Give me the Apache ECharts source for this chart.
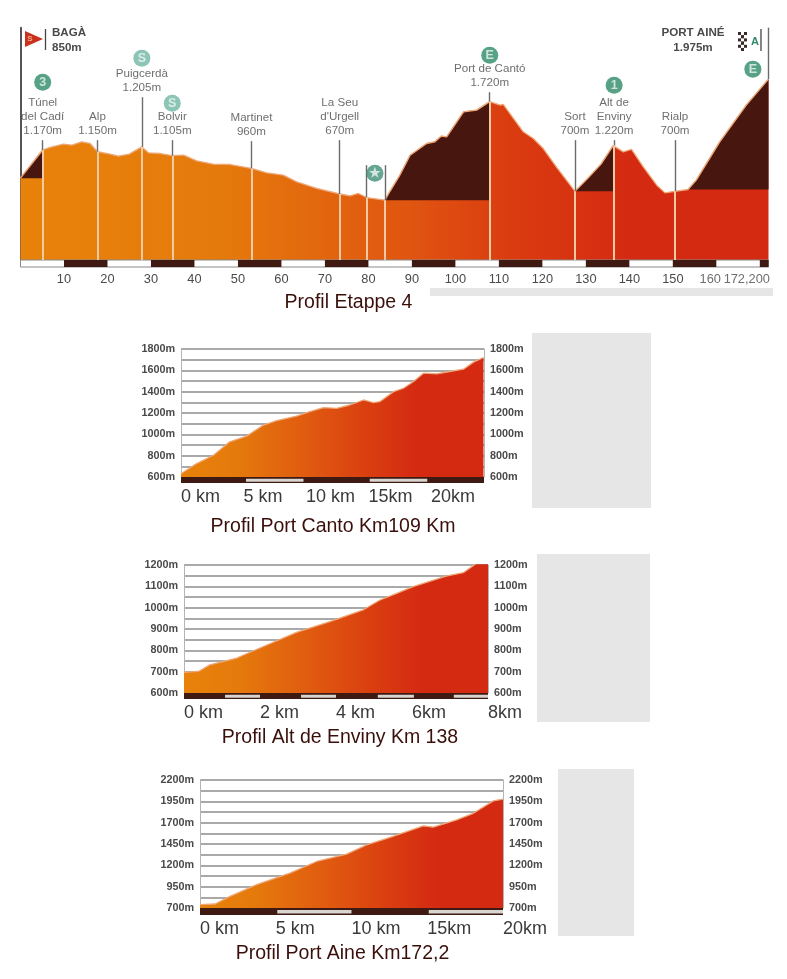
<!DOCTYPE html>
<html>
<head>
<meta charset="utf-8">
<title>Etappe 4 Profile</title>
<style>
html,body{margin:0;padding:0;background:#fff}
#chart{width:787px;height:979px}
</style>
<script src="https://cdn.jsdelivr.net/npm/echarts@6/dist/echarts.min.js"></script>
</head>
<body>
<div id="chart"></div>
<script>
// Stage profile: kilometre marks and elevation in metres
const stageKm = [0,5.1,6.8,9.85,11.8,14.05,16,17.7,20.6,22.5,25,27.9,29.4,32.1,34.9,37.5,40.5,44.3,48.2,53.1,56.6,60.4,63.5,68.1,73.4,75.8,77.7,79.6,83.8,84.9,87.2,89.6,93.4,95.3,96.8,98,101.9,104.9,107.9,110.3,111,115.6,117.9,120.2,123.2,127.5,130.5,133.5,136.3,138.6,140.5,143.2,146.3,148.2,150.5,153.5,155.4,160.8,166.9,172];
const stageElev = [850,1170,1199,1237,1225,1263,1244,1150,1123,1100,1123,1205,1138,1130,1105,1111,1047,1009,1005,960,911,884,808,733,670,649,676,630,600,695,880,1111,1244,1263,1328,1320,1604,1623,1720,1680,1688,1377,1301,1187,979,700,850,1010,1220,1149,1176,979,770,683,700,721,827,1263,1680,1975];

// Climbs shaded dark: start km, end km, floor elevation
const climbStart = [0,83.8,127.5,153.5];
const climbEnd = [5.1,107.9,136.3,172];
const climbFloor = [850,600,700,721];

// Named points along the route
const stopNames = ['Túnel\ndel Cadí\n1.170m','Alp\n1.150m','Puigcerdà\n1.205m','Bolvir\n1.105m','Martinet\n960m','La Seu\nd\'Urgell\n670m','','','Port de Cantó\n1.720m','Sort\n700m','Alt de\nEnviny\n1.220m','Rialp\n700m'];
const stopKm = [5.1,17.7,27.9,34.9,53.1,73.4,79.6,83.8,107.9,127.5,136.5,150.5];
const stopElev = [1170,1150,1205,1105,960,670,630,600,1720,700,1220,700];
const stopTop = [1282,1282,1770,1282,1270,1282,998,998,1827,1282,1282,1282];

// Climb category and sprint badges
const badgeText = ['3','S','S','★','E','1','E'];
const badgeKm = [5.1,27.9,34.9,81.5,107.9,136.5,168.4];
const badgeElev = [1941,2214,1702,907,2248,1907,2089];
const badgeColor = ['#2d8a68','#6fb5a4','#6fb5a4','#3f8f76','#2d8a68','#2d8a68','#2d8a68'];

// Distance strip under the stage profile
const stageStrip = [[10,20],[30,40],[50,60],[70,80],[90,100],[110,120],[130,140],[150,160],[170,172]];
const stageTicks = [10,20,30,40,50,60,70,80,90,100,110,120,130,140,150];
// The last two labels sit left of their marks to stay clear of each other
const stageEndText = ['160','172,200'];
const stageEndKm = [158.6,167];

// Port de Cantó climb
const cantoKm = [0,1.25,2.6,3.9,5.25,6.6,7.65,9.25,10.3,11.4,12.45,13.5,14.6,15.4,15.9,17,17.8,18.6,19.4,20.45,21.5,22.6,23.4,24.2];
const cantoElev = [631,726,804,930,983,1087,1128,1171,1212,1250,1244,1275,1322,1297,1306,1400,1432,1495,1573,1567,1589,1611,1677,1720];
const cantoGrid = [600,700,800,900,1000,1100,1200,1300,1400,1500,1600,1700,1800];
const cantoLabels = [600,800,1000,1200,1400,1600,1800];
const cantoStrip = [[5.2,9.8],[15.1,19.7]];
const cantoTicks = [0,5,10,15,20];
const cantoTickText = ['0 km','5 km','10 km','15km','20km'];

// Alt de Enviny climb
const envinyKm = [0,.38,.68,1.39,2.09,2.96,3.84,4.72,5.16,5.6,6.03,6.9,7.35,7.7,8];
const envinyElev = [697,701,732,764,818,884,935,990,1036,1067,1099,1148,1164,1208,1220];
const envinyGrid = [600,650,700,750,800,850,900,950,1000,1050,1100,1150,1200];
const envinyLabels = [600,700,800,900,1000,1100,1200];
const envinyStrip = [[1.08,2],[3.08,4],[5.1,6.05],[7.1,8]];
const envinyTicks = [0,2,4,6,8];
const envinyTickText = ['0 km','2 km','4 km','6km','8km'];

// Port Ainé climb
const aineKm = [0,1,1.98,3.74,5.94,7.7,9.68,11,12.5,14.74,15.4,16.94,18.04,19.36,20];
const aineElev = [739,747,836,973,1109,1245,1331,1440,1526,1662,1647,1732,1810,1955,1975];
const aineGrid = [700,825,950,1075,1200,1325,1450,1575,1700,1825,1950,2075,2200];
const aineLabels = [700,950,1200,1450,1700,1950,2200];
const aineStrip = [[5.1,10],[15.1,20]];
const aineTicks = [0,5,10,15,20];
const aineTickText = ['0 km','5 km','10 km','15km','20km'];

const FONT = '"Liberation Sans", Arial, sans-serif';
const DARK = '#47160f';
const INK = '#3b3b3b';
const EDGE = '#eea777';
const zipPoints = (xs, ys) => xs.map((x, i) => [x, ys[i]]);

function fillGradient(stops) {
  return new echarts.graphic.LinearGradient(0, 0, 1, 0, stops.map(s => ({offset: s[0], color: s[1]})));
}

const grid = [], xAxis = [], yAxis = [], series = [];

// Rectangles on a strip axis, one per [from, to] entry
function stripSeries(xi, yi, ranges, color, lo, hi, border) {
  series.push({
    type: 'custom', xAxisIndex: xi, yAxisIndex: yi, silent: true, clip: false, z: 4,
    encode: {x: [0, 1]}, data: ranges,
    renderItem(p, api) {
      const a = api.coord([api.value(0), hi]);
      const b = api.coord([api.value(1), lo]);
      return {type: 'rect', shape: {x: a[0], y: a[1], width: b[0] - a[0], height: b[1] - a[1]},
        style: {fill: color, stroke: border || null, lineWidth: border ? 1 : 0}};
    }
  });
}

function addStrip(left, width, top, height, xMax, ticks, labelStyle) {
  grid.push({left, top, width, height, containLabel: false});
  const gi = grid.length - 1;
  xAxis.push({
    type: 'value', gridIndex: gi, min: 0, max: xMax,
    axisLine: {show: false}, axisTick: {show: false}, splitLine: {show: false},
    axisLabel: Object.assign({show: true, customValues: ticks, fontFamily: FONT, color: INK, hideOverlap: false}, labelStyle)
  });
  yAxis.push({type: 'value', gridIndex: gi, min: 0, max: 1, show: false});
  return [xAxis.length - 1, yAxis.length - 1];
}

// Stage overview
(function stagePanel() {
  const left = 20.5, width = 748, bottom = 260, floorValue = -80, topValue = 2560;
  const perMetre = 0.088;
  const height = (topValue - floorValue) * perMetre;
  grid.push({left, top: bottom - height, width, height});
  const gi = grid.length - 1;
  xAxis.push({type: 'value', gridIndex: gi, min: 0, max: 172, show: false});
  yAxis.push({type: 'value', gridIndex: gi, min: floorValue, max: topValue,
    axisLine: {show: true, onZero: false, lineStyle: {color: '#555', width: 2}},
    axisTick: {show: false}, axisLabel: {show: false}, splitLine: {show: false}});
  const xi = xAxis.length - 1, yi = yAxis.length - 1;
  const points = zipPoints(stageKm, stageElev);

  series.push({
    type: 'line', xAxisIndex: xi, yAxisIndex: yi, data: points, showSymbol: false, silent: true, z: 2,
    lineStyle: {color: EDGE, width: 1.3},
    areaStyle: {opacity: 1, origin: 'start', color: fillGradient([[0,'#e8820a'],[.27,'#e57a0c'],[.52,'#e05510'],[.66,'#da3b10'],[.82,'#d42a12'],[1,'#d42a12']])}
  });
  climbStart.forEach((from, i) => {
    series.push({
      type: 'line', xAxisIndex: xi, yAxisIndex: yi, showSymbol: false, silent: true, z: 3,
      data: points.filter(p => p[0] >= from && p[0] <= climbEnd[i]),
      lineStyle: {color: EDGE, width: 1.3},
      areaStyle: {opacity: 1, origin: climbFloor[i], color: DARK}
    });
  });

  // Posts: dark above the terrain, pale inside it
  const upper = stopKm.map((km, i) => [{coord: [km, stopTop[i]]}, {coord: [km, stopElev[i]]}]);
  upper.push([{coord: [172, 1975]}, {coord: [172, topValue]}]);
  const lower = stopKm.map((km, i) => [{coord: [km, stopElev[i]]}, {coord: [km, floorValue]}]);
  series.push({
    type: 'line', xAxisIndex: xi, yAxisIndex: yi, data: [], silent: true, z: 5,
    markLine: {silent: true, symbol: 'none', label: {show: false}, animation: false,
      lineStyle: {color: '#6b6b6b', width: 1.4, type: 'solid'}, data: upper}
  });
  series.push({
    type: 'line', xAxisIndex: xi, yAxisIndex: yi, data: [], silent: true, z: 5,
    markLine: {silent: true, symbol: 'none', label: {show: false}, animation: false,
      lineStyle: {color: '#f3c9a3', width: 2, type: 'solid'}, data: lower}
  });

  // Place names above their posts
  series.push({
    type: 'scatter', xAxisIndex: xi, yAxisIndex: yi, symbolSize: 0, silent: true, z: 6,
    data: stopKm.map((km, i) => ({value: [km, stopTop[i]], name: stopNames[i]})),
    label: {show: true, position: 'top', distance: 3, formatter: p => p.name,
      fontFamily: FONT, fontSize: 11.6, lineHeight: 13.6, color: '#4a4a4a', align: 'center'}
  });
  series.push({
    type: 'scatter', xAxisIndex: xi, yAxisIndex: yi, symbol: 'circle', symbolSize: 17, silent: true, z: 7,
    data: badgeKm.map((km, i) => ({value: [km, badgeElev[i]], name: badgeText[i], itemStyle: {color: badgeColor[i]}})),
    label: {show: true, position: 'inside', formatter: p => p.name, fontFamily: FONT, fontWeight: 'bold', fontSize: 12.5, color: '#eef6f2'}
  });

  // Distance strip and its kilometre labels
  const [sx, sy] = addStrip(left, width, bottom, 7, 172, stageTicks,
    {fontSize: 12.8, color: '#4a4a4a', margin: 6, align: 'center'});
  stripSeries(sx, sy, [[0, 172]], '#ffffff', 0, 1, '#8a8a8a');
  stripSeries(sx, sy, stageStrip, '#3e1a12', 0, 1);
  series.push({
    type: 'scatter', xAxisIndex: sx, yAxisIndex: sy, symbolSize: 0, silent: true,
    data: stageEndKm.map((km, i) => ({value: [km, 0], name: stageEndText[i]})),
    label: {show: true, position: 'bottom', distance: 6, formatter: p => p.name, fontFamily: FONT, fontSize: 12.8, color: '#4a4a4a'}
  });
})();

// One climb panel with elevation rules on both sides and a strip underneath
function climbPanel(cfg) {
  const {left, right, top, bottom, stripBottom, xMax, km, elev, gridVals, labelVals, strip, ticks, tickText} = cfg;
  const width = right - left, height = bottom - top;
  grid.push({left, top, width, height});
  const gi = grid.length - 1;
  const yMin = gridVals[0], yMax = gridVals[gridVals.length - 1];
  const labelBase = {customValues: labelVals, formatter: v => v + 'm', fontFamily: FONT, fontSize: 10.8, fontWeight: 'bold', color: '#4a4a4a', margin: 6};
  xAxis.push({type: 'value', gridIndex: gi, min: 0, max: xMax, show: false});
  yAxis.push({type: 'value', gridIndex: gi, min: yMin, max: yMax, position: 'left',
    axisLine: {show: true, lineStyle: {color: '#b5b5b5', width: 1}},
    axisTick: {show: false, customValues: gridVals},
    axisLabel: labelBase,
    splitLine: {show: true, lineStyle: {color: '#8c8c8c', width: 1.5}}});
  const xi = xAxis.length - 1, yi = yAxis.length - 1;
  yAxis.push({type: 'value', gridIndex: gi, min: yMin, max: yMax, position: 'right',
    axisLine: {show: true, lineStyle: {color: '#b5b5b5', width: 1}},
    axisTick: {show: false}, axisLabel: Object.assign({}, labelBase), splitLine: {show: false}});
  series.push({
    type: 'line', xAxisIndex: xi, yAxisIndex: yi, data: zipPoints(km, elev), showSymbol: false, silent: true, z: 3,
    lineStyle: {color: EDGE, width: 1.3},
    areaStyle: {opacity: 1, origin: 'start', color: fillGradient([[0,'#e8820a'],[.18,'#e57a0c'],[.42,'#e05a10'],[.62,'#da3e10'],[.78,'#d42a12'],[1,'#d42a12']])}
  });
  const [sx, sy] = addStrip(left, width, bottom, stripBottom - bottom, xMax, ticks,
    {fontSize: 18, margin: 5, align: 'left', color: '#3a3a3a', formatter: v => tickText[ticks.indexOf(v)]});
  stripSeries(sx, sy, [[0, xMax]], '#3e1a12', 0, 1);
  stripSeries(sx, sy, strip, '#d8d4d0', .2, .72);
}

climbPanel({left: 181, right: 484, top: 349, bottom: 477, stripBottom: 483, xMax: 24.24,
  km: cantoKm, elev: cantoElev, gridVals: cantoGrid, labelVals: cantoLabels, strip: cantoStrip, ticks: cantoTicks, tickText: cantoTickText});
climbPanel({left: 184, right: 488, top: 565, bottom: 693, stripBottom: 699, xMax: 8,
  km: envinyKm, elev: envinyElev, gridVals: envinyGrid, labelVals: envinyLabels, strip: envinyStrip, ticks: envinyTicks, tickText: envinyTickText});
climbPanel({left: 200, right: 503, top: 780, bottom: 908, stripBottom: 915, xMax: 20,
  km: aineKm, elev: aineElev, gridVals: aineGrid, labelVals: aineLabels, strip: aineStrip, ticks: aineTicks, tickText: aineTickText});

// Start flag, finish marker, captions and side panels
const caption = (text, x, y) => ({type: 'text', x, y, style: {text, fontFamily: FONT, fontSize: 19.5, fill: '#3a0f0a', align: 'center', verticalAlign: 'middle'}, silent: true});
const heading = (text, x, y, align) => ({type: 'text', x, y, style: {text, fontFamily: FONT, fontSize: 11.6, fontWeight: 'bold', fill: '#4a4a4a', align, verticalAlign: 'middle'}, silent: true});
const panel = (x, y, w, h) => ({type: 'rect', shape: {x, y, width: w, height: h}, style: {fill: '#e6e6e6'}, silent: true, z: -1});

const checks = [];
[[0,0],[1,1],[0,2],[1,3],[0,4],[1,5]].forEach(([c, r]) => {
  checks.push({type: 'rect', shape: {x: 738 + c * 3, y: 32 + r * 3.2, width: 3, height: 3}, style: {fill: '#3a2a28'}, silent: true});
  checks.push({type: 'rect', shape: {x: 744 - c * 3, y: 32 + r * 3.2, width: 3, height: 3}, style: {fill: '#3a2a28'}, silent: true});
});

const graphic = [
  panel(430, 288, 343, 8), panel(532, 333, 119, 175), panel(537, 554, 113, 168), panel(558, 769, 76, 167),
  caption('Profil Etappe 4', 348.5, 303),
  caption('Profil Port Canto Km109 Km', 333, 527),
  caption('Profil Alt de Enviny Km 138', 340, 738),
  caption('Profil Port Aine Km172,2', 342.5, 954),
  {type: 'polygon', shape: {points: [[25, 31], [43, 39], [25, 47]]}, style: {fill: '#c8321e'}, silent: true},
  {type: 'text', x: 30, y: 39, style: {text: 'S', fontFamily: FONT, fontSize: 8, fontWeight: 'bold', fill: '#f4a58a', align: 'center', verticalAlign: 'middle'}, silent: true},
  {type: 'line', shape: {x1: 45.5, y1: 29, x2: 45.5, y2: 50}, style: {stroke: '#444', lineWidth: 1.3}, silent: true},
  heading('BAGÀ', 52, 33, 'left'),
  heading('850m', 52, 48, 'left'),
  heading('PORT AINÉ', 693, 33, 'center'),
  heading('1.975m', 693, 48, 'center'),
  {type: 'text', x: 755, y: 42, style: {text: 'A', fontFamily: FONT, fontSize: 11, fontWeight: 'bold', fill: '#2d8a68', align: 'center', verticalAlign: 'middle'}, silent: true},
  {type: 'line', shape: {x1: 761, y1: 29, x2: 761, y2: 51}, style: {stroke: '#444', lineWidth: 1.3}, silent: true}
].concat(checks);

const chart = echarts.init(document.getElementById('chart'), null, {renderer: 'canvas'});
chart.setOption({animation: false, backgroundColor: '#fff', grid, xAxis, yAxis, series, graphic, tooltip: {show: false}});
</script>
</body>
</html>
